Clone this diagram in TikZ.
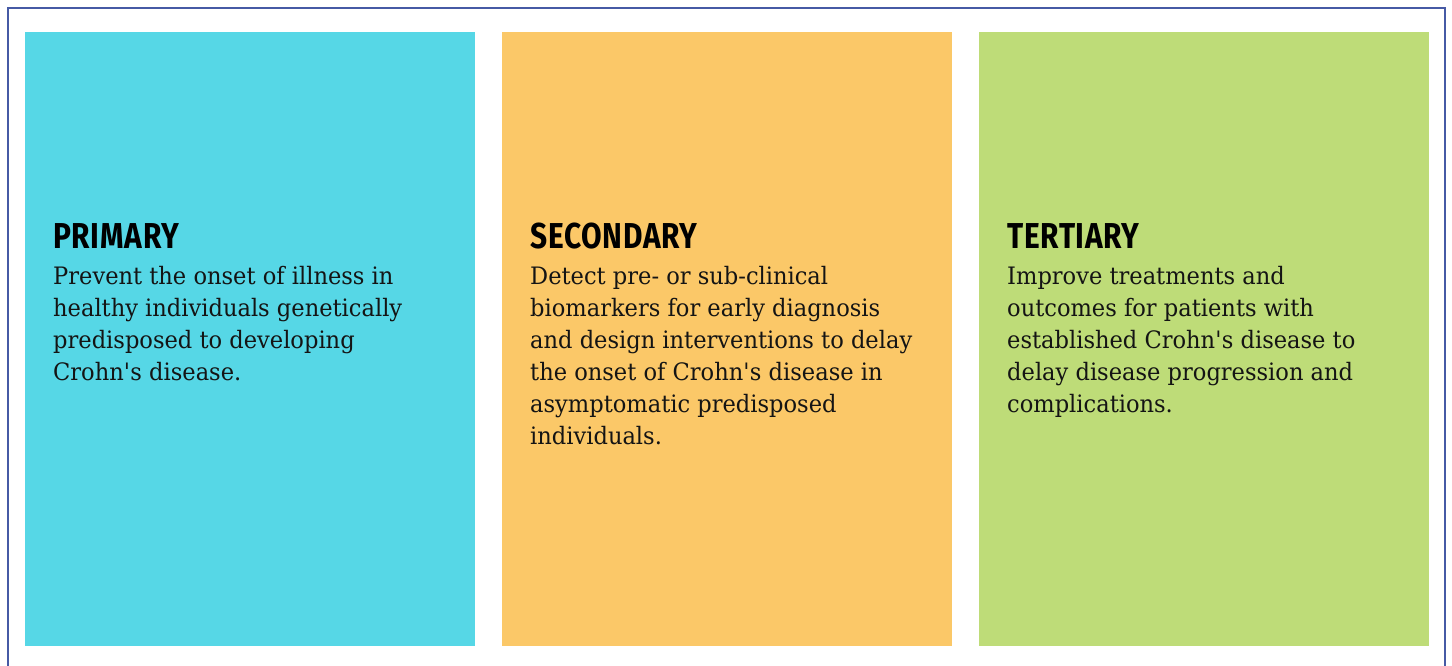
\documentclass[tikz,border=0pt]{standalone}
\usepackage{fontspec}
\newfontfamily\headfont[FakeStretch=0.83,LetterSpace=2]{Fira Sans Bold}
\newfontfamily\bodyfont[FakeStretch=0.94]{DejaVu Serif}
\definecolor{framec}{RGB}{70,90,165}
\definecolor{cyanbox}{RGB}{86,215,230}
\definecolor{orangebox}{RGB}{251,200,104}
\definecolor{greenbox}{RGB}{190,220,120}
\definecolor{bodytext}{RGB}{20,20,20}
\tikzset{
  panel/.style={inner sep=0pt, outer sep=0pt, minimum width=450pt, minimum height=614pt, anchor=north west},
  head/.style={inner sep=0pt, anchor=base west, font=\headfont\fontsize{36}{36}\selectfont, text=black},
  body/.style={inner sep=0pt, anchor=base west, font=\bodyfont\fontsize{24}{32}\selectfont, text=bodytext},
}
\begin{document}
\begin{tikzpicture}[x=1pt,y=1pt]
\useasboundingbox (0,0) rectangle (1452,666);
\fill[white] (0,0) rectangle (1452,666);
\draw[framec, line width=2pt] (8,-5) -- (8,657.5) -- (1445,657.5) -- (1445,-5);
\node[panel, fill=cyanbox] (pbox) at (25,634) {};
\node[panel, fill=orangebox] (sbox) at (502,634) {};
\node[panel, fill=greenbox] (tbox) at (979,634) {};
\node[head] (phead) at (53,417.7) {PRIMARY};
\node[head] (shead) at (530,417.7) {SECONDARY};
\node[head] (thead) at (1007,417.7) {TERTIARY};
\foreach \t [count=\i] in {Prevent the onset of illness in, healthy individuals genetically, predisposed to developing, Crohn\textquotesingle s disease.}
  \node[body] (pl\i) at (53,{381-32*(\i-1)}) {\t};
\foreach \t [count=\i] in {Detect pre- or sub-clinical, biomarkers for early diagnosis, and design interventions to delay, the onset of Crohn\textquotesingle s disease in, asymptomatic predisposed, individuals.}
  \node[body] (sl\i) at (530,{381-32*(\i-1)}) {\t};
\foreach \t [count=\i] in {Improve treatments and, outcomes for patients with, established Crohn\textquotesingle s disease to, delay disease progression and, complications.}
  \node[body] (tl\i) at (1007,{381-32*(\i-1)}) {\t};
\end{tikzpicture}
\end{document}
